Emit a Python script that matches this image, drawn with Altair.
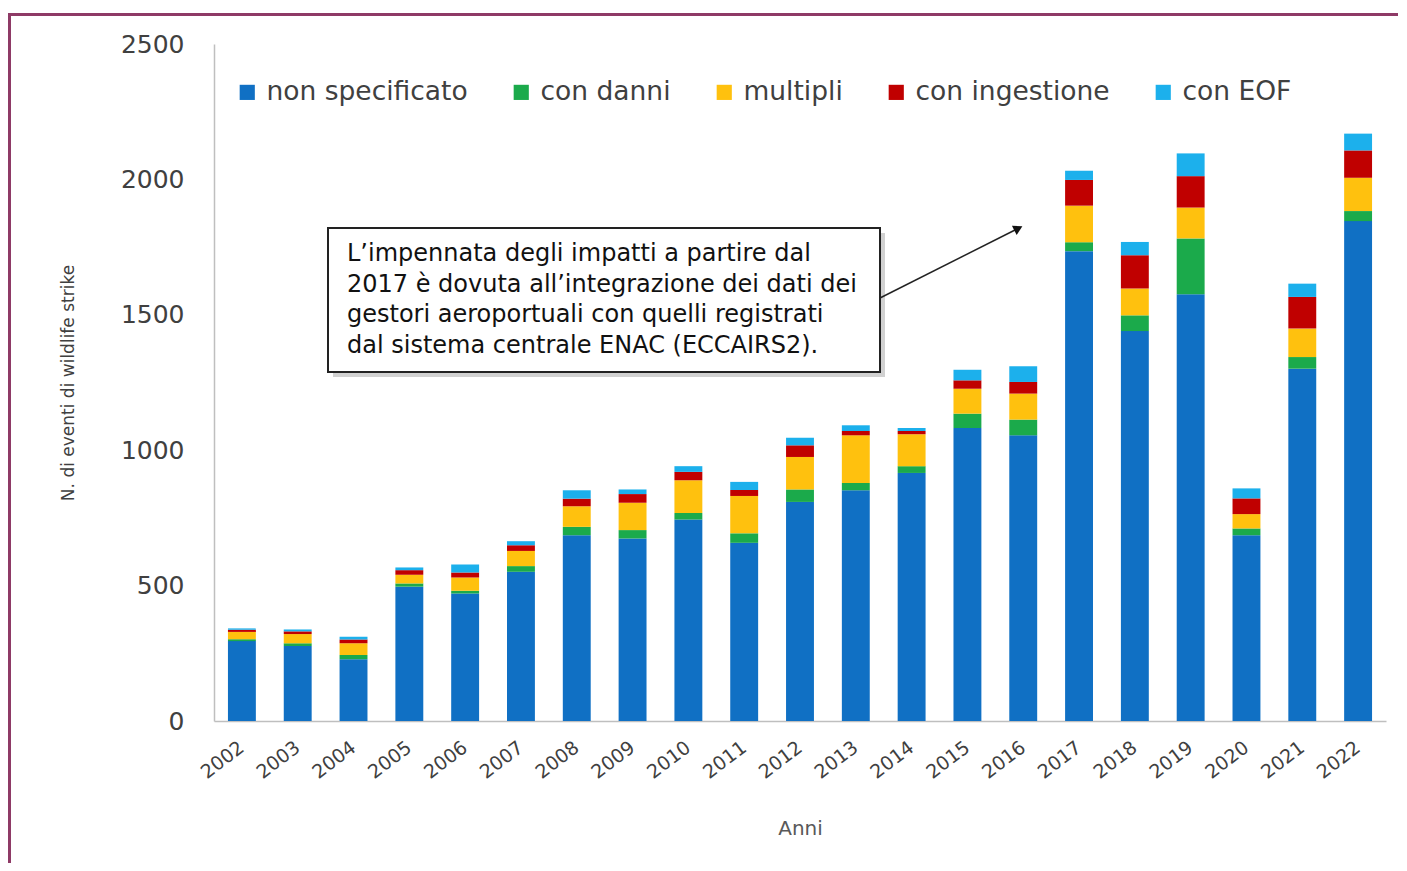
import altair as alt
import pandas as pd

years = [str(y) for y in range(2002, 2023)]
categories = ["non specificato", "con danni", "multipli", "con ingestione", "con EOF"]
colors = ["#1070C4", "#1BAA4B", "#FFC10E", "#C00000", "#1CB0EC"]

non_specificato = [295, 277, 228, 496, 471, 551, 686, 674, 744, 658, 809, 852, 916, 1082, 1055, 1735, 1440, 1576, 686, 1301, 1846]
con_danni       = [7, 10, 16, 12, 10, 21, 31, 31, 24, 35, 46, 27, 25, 53, 58, 33, 58, 206, 25, 43, 37]
multipli        = [27, 34, 43, 32, 49, 56, 76, 101, 121, 138, 120, 176, 118, 92, 96, 135, 99, 114, 53, 105, 123]
con_ingestione  = [8, 10, 14, 17, 18, 21, 28, 32, 31, 22, 43, 16, 12, 31, 43, 95, 123, 116, 58, 117, 101]
con_eof         = [5, 7, 10, 10, 30, 15, 31, 17, 21, 30, 28, 21, 11, 39, 58, 34, 49, 84, 37, 49, 62]

y_ticks = [0, 500, 1000, 1500, 2000, 2500]

annotation_lines = [
    "L\u2019impennata degli impatti a partire dal",
    "2017 \u00e8 dovuta all\u2019integrazione dei dati dei",
    "gestori aeroportuali con quelli registrati",
    "dal sistema centrale ENAC (ECCAIRS2).",
]

series = [non_specificato, con_danni, multipli, con_ingestione, con_eof]
rows = []
for ci, (cat, vals) in enumerate(zip(categories, series)):
    for y, v in zip(years, vals):
        rows.append({"Anno": y, "Categoria": cat, "Valore": v, "ordine": ci})
df = pd.DataFrame(rows)

FONT = "DejaVu Sans"
W, H = 1172, 677

bars = alt.Chart(df).mark_bar().encode(
    x=alt.X("Anno:N", sort=years,
            scale=alt.Scale(paddingInner=0.5, paddingOuter=0.25),
            axis=alt.Axis(title="Anni", labelAngle=-37, labelAlign="right",
                          labelBaseline="middle", labelPadding=24, ticks=False,
                          labelFontSize=19, labelColor="#404040", labelFont=FONT,
                          titleFont=FONT, titleFontSize=20, titleFontWeight="normal",
                          titleColor="#595959", titleBaseline="middle", titleY=107,
                          domainColor="#BFBFBF", domainWidth=1.5)),
    y=alt.Y("Valore:Q", stack="zero",
            scale=alt.Scale(domain=[0, 2500], nice=False),
            axis=alt.Axis(title="N. di eventi di wildlife strike", values=y_ticks,
                          format="d", ticks=False, grid=False, labelPadding=30,
                          labelFontSize=25, labelColor="#404040", labelFont=FONT,
                          titleFont=FONT, titleFontSize=17, titleFontWeight="normal",
                          titleColor="#404040", titleBaseline="middle",
                          titleX=-146, titleY=H / 2,
                          domainColor="#BFBFBF", domainWidth=1.5)),
    color=alt.Color("Categoria:N",
                    scale=alt.Scale(domain=categories, range=colors),
                    sort=categories,
                    legend=alt.Legend(title=None, orient="none", direction="horizontal",
                                      legendX=20, legendY=35, symbolType="square",
                                      symbolSize=230, symbolStrokeWidth=0,
                                      labelFont=FONT, labelFontSize=26.5,
                                      labelColor="#404040", labelOffset=6,
                                      columnPadding=40, labelLimit=400)),
    order=alt.Order("ordine:Q", sort="ascending"),
)

one = alt.Data(values=[{}])

shadow = alt.Chart(one).mark_rect(color="#9a9a9a", opacity=0.45).encode(
    x=alt.value(119), x2=alt.value(671), y=alt.value(189), y2=alt.value(333))
box = alt.Chart(one).mark_rect(fill="white", stroke="#222222", strokeWidth=2).encode(
    x=alt.value(114), x2=alt.value(666), y=alt.value(184), y2=alt.value(328))
note = alt.Chart(one).mark_text(align="left", baseline="middle", font=FONT,
                                fontSize=24, lineHeight=30.5, color="#111111").encode(
    x=alt.value(133), y=alt.value(210), text=alt.value(annotation_lines))
arrow_line = alt.Chart(one).mark_rule(color="#222222", strokeWidth=1.5).encode(
    x=alt.value(666), y=alt.value(254), x2=alt.value(803), y2=alt.value(185))
arrow_head = alt.Chart(one).mark_point(shape="triangle", filled=True, color="#111111",
                                       opacity=1, size=110, angle=63).encode(
    x=alt.value(803), y=alt.value(185))

frame_top = alt.Chart(one).mark_rule(color="#8E3A66", strokeWidth=3).encode(
    x=alt.value(-206), x2=alt.value(1200), y=alt.value(-29.5))
frame_left = alt.Chart(one).mark_rule(color="#8E3A66", strokeWidth=3).encode(
    x=alt.value(-204.5), y=alt.value(-31), y2=alt.value(850))

chart = alt.layer(bars, shadow, box, note, arrow_line, arrow_head, frame_top, frame_left).properties(
    width=W, height=H,
    autosize=alt.AutoSizeParams(type="none"),
    padding={"left": 206, "top": 36, "right": 12, "bottom": 142},
    background="white",
).configure_view(stroke=None)

chart.save("out.html", embed_options={"renderer": "svg", "actions": False})
